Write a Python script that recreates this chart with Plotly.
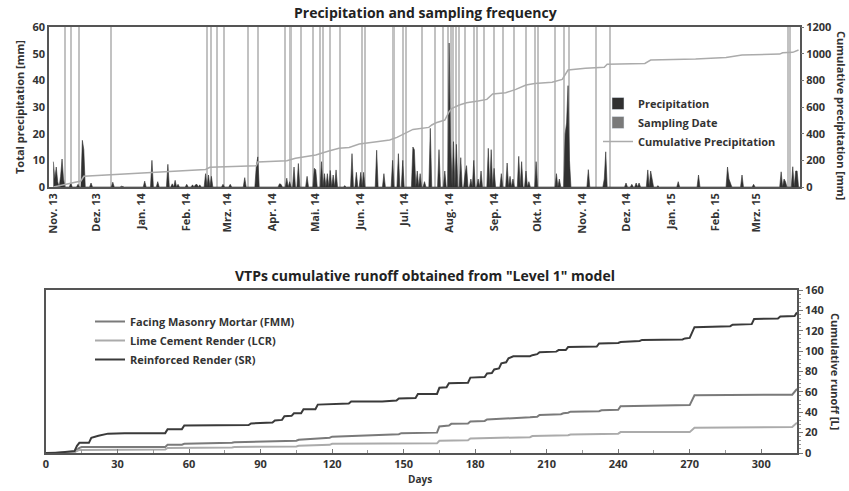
import pandas as pd
import plotly.graph_objects as go

# ---------------- data: top chart ----------------
rain_dates = ["2013-11-01","2013-11-02","2013-11-03","2013-11-04","2013-11-06","2013-11-07","2013-11-08",
              "2013-11-13","2013-11-18","2013-11-21","2013-11-22","2013-11-27","2013-12-12","2013-12-18",
              "2014-01-03","2014-01-08","2014-01-12","2014-01-19","2014-01-22","2014-01-24","2014-01-26",
              "2014-02-01","2014-02-05","2014-02-07","2014-02-08","2014-02-10","2014-02-14","2014-02-16",
              "2014-02-18","2014-02-26","2014-03-03","2014-03-13","2014-03-21","2014-03-22","2014-04-06",
              "2014-04-07","2014-04-11","2014-04-13","2014-04-16","2014-04-19","2014-04-25","2014-04-30",
              "2014-05-01","2014-05-05","2014-05-07","2014-05-09","2014-05-11","2014-05-13","2014-05-15",
              "2014-05-21","2014-05-26","2014-05-29","2014-06-01","2014-06-03","2014-06-12","2014-06-17",
              "2014-06-23","2014-06-27","2014-06-30","2014-07-07","2014-07-08","2014-07-10","2014-07-12",
              "2014-07-15","2014-07-19","2014-07-25","2014-07-29","2014-08-01","2014-08-02","2014-08-04",
              "2014-08-06","2014-08-09","2014-08-12","2014-08-13","2014-08-16","2014-08-18","2014-08-21",
              "2014-08-23","2014-08-28","2014-08-30","2014-09-01","2014-09-06","2014-09-10","2014-09-12",
              "2014-09-14","2014-09-18","2014-09-20","2014-09-23","2014-09-25","2014-09-30","2014-10-14",
              "2014-10-16","2014-10-20","2014-10-21","2014-10-22","2014-10-23","2014-11-05","2014-11-16",
              "2014-11-17","2014-12-01","2014-12-05","2014-12-08","2014-12-10","2014-12-16","2014-12-18",
              "2014-12-19","2014-12-23","2015-01-06","2015-01-20","2015-02-09","2015-02-10","2015-02-11",
              "2015-02-19","2015-02-27","2015-03-18","2015-03-20","2015-03-21","2015-03-26","2015-03-28",
              "2015-03-29"]
rain_mm = [9.5, 3, 7.5, 2, 4, 10.5, 3,
           1.5, 1, 17.5, 14, 1.5, 1.8, 0.3,
           2.2, 10, 2, 8.5, 1.2, 2.5, 1.0,
           1, 0.8, 0.8, 1, 0.8, 5, 4.5,
           4, 1, 1, 3.5, 8, 11.3, 1.2,
           1, 3.3, 2, 7.5, 8.8, 4, 7,
           6.5, 9.5, 5, 5, 6.2, 4.5, 6.4,
           0.5, 12.5, 5.5, 5.5, 5.5, 13.8, 5,
           10, 12.5, 10, 15, 14, 6, 5,
           2, 22, 14, 6, 54, 16, 17,
           16, 11, 5, 8, 3, 10, 3,
           6, 14.5, 14, 7, 5, 9, 4,
           3, 11.5, 9.5, 6, 2, 9.5, 5,
           3, 20, 24, 38, 10, 6.5, 3,
           13.2, 1.5, 1, 1.5, 1.5, 6.4, 6,
           3, 0.5, 2, 4.5, 7.5, 3, 1.5,
           4.5, 1, 5.7, 3, 2, 7.6, 6,
           6]

sampling_dates = ["2013-11-09","2013-11-13","2013-11-19","2013-12-11","2014-02-15","2014-02-18",
                  "2014-02-22","2014-02-27","2014-03-15","2014-03-22","2014-04-10","2014-04-13",
                  "2014-04-14","2014-04-21","2014-04-29","2014-05-04","2014-05-06","2014-05-11",
                  "2014-05-18","2014-06-02","2014-06-04","2014-06-23","2014-06-24","2014-06-30",
                  "2014-07-02","2014-07-13","2014-07-22","2014-07-28","2014-07-31","2014-08-02",
                  "2014-08-04","2014-08-06","2014-08-08","2014-08-12","2014-08-18","2014-08-20",
                  "2014-08-25","2014-09-01","2014-09-07","2014-09-15","2014-09-23","2014-09-29",
                  "2014-10-01","2014-10-13","2014-10-19","2014-10-23","2014-11-10","2014-11-20",
                  "2015-03-23","2015-03-24"]
sampling_height = 60

cum_dates = ["2013-11-01","2013-11-20","2013-11-22","2014-02-14","2014-02-17","2014-03-10","2014-03-21",
             "2014-03-22","2014-04-11","2014-04-17","2014-05-01","2014-05-10","2014-05-17","2014-05-24",
             "2014-05-31","2014-06-12","2014-06-21","2014-06-26","2014-07-01","2014-07-07","2014-07-18",
             "2014-07-20","2014-07-23","2014-07-29","2014-08-01","2014-08-03","2014-08-08","2014-08-13",
             "2014-08-21","2014-08-27","2014-08-31","2014-09-09","2014-09-16","2014-09-23","2014-09-29",
             "2014-10-11","2014-10-18","2014-10-22","2014-11-03","2014-11-16","2014-11-18","2014-12-14",
             "2014-12-18","2015-01-18","2015-02-08","2015-02-19","2015-03-17","2015-03-19","2015-03-26",
             "2015-03-30"]
cum_mm = [0, 45, 80, 132, 148, 157, 160,
          188, 197, 215, 240, 270, 290, 297,
          322, 340, 352, 372, 397, 432, 447,
          465, 482, 502, 565, 590, 615, 632,
          645, 657, 697, 707, 732, 765, 777,
          785, 807, 877, 890, 898, 920, 927,
          952, 960, 972, 990, 997, 1007, 1010,
          1027]

month_ticks = ["2013-11-01","2013-12-01","2014-01-01","2014-02-01","2014-03-01","2014-04-01",
               "2014-05-01","2014-06-01","2014-07-01","2014-08-01","2014-09-01","2014-10-01",
               "2014-11-01","2014-12-01","2015-01-01","2015-02-01","2015-03-01"]
month_labels = ["Nov. 13","Dez. 13","Jan. 14","Feb. 14","Mrz. 14","Apr. 14","Mai. 14","Jun. 14",
                "Jul. 14","Aug. 14","Sep. 14","Okt. 14","Nov. 14","Dez. 14","Jan. 15","Feb. 15","Mrz. 15"]

# ---------------- data: bottom chart ----------------
sr_days = [0,4,10,12,13,14,18,19,22,26,33,50,51,57,58,85,86,95,96,99,100,103,104,107,108,113,114,
           127,128,141,147,148,155,156,164,165,168,169,177,178,184,185,187,188,190,191,193,194,196,
           203,204,206,207,214,215,218,219,231,232,240,241,249,250,267,268,270,272,287,288,296,297,
           307,308,314,315]
sr_l = [0,0,1.5,2,7,10,10,15,17,19,19.5,19.5,23.4,23.4,27,27.5,29,30,32,32.5,36,36.5,39,39,43,43,47.5,
        48.5,50.5,50.5,51.5,53.5,54,58,58,64,64.5,68.5,69,74,74.5,78,78.5,82,83,88,89,93,95,
        95,96,97,99,99.5,101,101,104,104.5,107.5,108,109,110,111,111.5,112.5,113,123.5,124.5,126,126.5,131.5,
        132,134,134.5,138]

fmm_days = [0,10,12,14,15,50,51,57,58,78,79,105,106,119,120,148,149,164,165,169,170,177,178,184,185,
            203,206,207,216,217,219,220,232,233,240,241,267,270,272,313,315]
fmm_l = [0,0.5,1,5,5.8,6,8,8.2,9,10,10.5,12,13,15,16,18.5,19.5,20,26,27,28.6,29,31,31.5,33,
         35,35.5,37.4,38,39,39.5,40.6,41,42,42.5,46,46.5,47,56.6,57.3,63]

lcr_days = [0,10,12,14,50,51,78,79,105,106,119,120,164,165,177,178,203,204,219,220,240,241,270,272,313,315]
lcr_l = [0,0,1,3,3.5,5,5.5,5.8,6.5,7,8,9,9.5,12,12.5,14.3,15.5,16.6,17.5,18.2,19,20.5,20.5,24.8,25.5,29.7]

# ---------------- build figure ----------------
FONT = "Open Sans"
days = pd.date_range("2013-11-01", "2015-03-31", freq="D")
rain_series = pd.Series(0.0, index=days)
rain_series[pd.to_datetime(rain_dates)] = rain_mm

fig = go.Figure()

# drawn marks (legend entries handled by legend-only square traces below)
fig.add_trace(go.Scatter(
    x=rain_series.index, y=rain_series.values, name="Precipitation", mode="lines",
    line=dict(color="#303030", width=0.6), fill="tozeroy", fillcolor="#303030",
    xaxis="x", yaxis="y", showlegend=False))
fig.add_trace(go.Bar(
    x=sampling_dates, y=[sampling_height] * len(sampling_dates), name="Sampling Date",
    width=0.75 * 86400000, marker=dict(color="#c2c2c2", line=dict(width=0)),
    xaxis="x", yaxis="y", showlegend=False))

# legend squares
fig.add_trace(go.Bar(x=[None], y=[None], name="Precipitation", marker=dict(color="#303030"),
                     xaxis="x", yaxis="y", legend="legend"))
fig.add_trace(go.Bar(x=[None], y=[None], name="Sampling Date", marker=dict(color="#7a7a7a"),
                     xaxis="x", yaxis="y", legend="legend"))

fig.add_trace(go.Scatter(
    x=cum_dates, y=cum_mm, name="Cumulative Precipitation", mode="lines",
    line=dict(color="#ababab", width=1.5), xaxis="x", yaxis="y2", legend="legend"))

fig.add_trace(go.Scatter(
    x=fmm_days, y=fmm_l, name="Facing Masonry Mortar (FMM)", mode="lines",
    line=dict(color="#7a7a7a", width=2), xaxis="x2", yaxis="y3", legend="legend2"))
fig.add_trace(go.Scatter(
    x=lcr_days, y=lcr_l, name="Lime Cement Render (LCR)", mode="lines",
    line=dict(color="#ababab", width=2), xaxis="x2", yaxis="y3", legend="legend2"))
fig.add_trace(go.Scatter(
    x=sr_days, y=sr_l, name="Reinforced Render (SR)", mode="lines",
    line=dict(color="#3a3a3a", width=2), xaxis="x2", yaxis="y3", legend="legend2"))

ML, MR, MT, MB = 46, 49, 27, 38
W, H = 849, 491
PW, PH = W - ML - MR, H - MT - MB


def px_x(x):
    return (x - ML) / PW


def px_y(y):
    return (H - MB - y) / PH


tickfont = dict(family=FONT, size=11, color="#333", weight="bold")
frame = dict(showline=True, linecolor="#555", linewidth=1.5, mirror=True, showgrid=False, zeroline=False)

fig.update_layout(
    width=W, height=H, margin=dict(l=ML, r=MR, t=MT, b=MB, autoexpand=False),
    paper_bgcolor="white", plot_bgcolor="white",
    barmode="overlay", bargap=0,
    font=dict(family=FONT, color="#333"),
    xaxis=dict(domain=[px_x(49), px_x(800)], anchor="y", type="date",
               range=["2013-10-29", "2015-03-31"], tickvals=month_ticks, ticktext=month_labels,
               tickangle=-90, tickfont=tickfont, ticks="", automargin=False, **frame),
    yaxis=dict(domain=[px_y(187), px_y(27)], anchor="x", range=[0, 60], dtick=10,
               tickfont=tickfont, ticks="", automargin=False, **frame),
    yaxis2=dict(overlaying="y", side="right", anchor="x", range=[0, 1200], dtick=200,
                tickfont=tickfont, ticks="outside", ticklen=3, tickcolor="#777",
                showgrid=False, zeroline=False, automargin=False),
    xaxis2=dict(domain=[px_x(46), px_x(797)], anchor="y3", range=[0, 315], dtick=30,
                tickfont=tickfont, ticks="inside", ticklen=4, tickcolor="#777",
                minor=dict(dtick=15, ticks="inside", ticklen=3, tickcolor="#999"),
                automargin=False, **frame),
    yaxis3=dict(domain=[px_y(453), px_y(290)], anchor="x2", side="right", range=[0, 160], dtick=20,
                tickfont=tickfont, ticks="outside", ticklen=4, tickcolor="#777",
                minor=dict(dtick=4, ticks="outside", ticklen=2, tickcolor="#999"),
                automargin=False, **frame),
    legend=dict(x=px_x(598), y=px_y(89), xanchor="left", yanchor="top", bgcolor="rgba(0,0,0,0)",
                font=dict(family=FONT, size=11, color="#333", weight="bold"), itemwidth=30,
                tracegroupgap=0),
    legend2=dict(x=px_x(90), y=px_y(307), xanchor="left", yanchor="top", bgcolor="rgba(0,0,0,0)",
                 font=dict(family=FONT, size=11, color="#333", weight="bold"), itemwidth=30,
                 tracegroupgap=0),
    showlegend=True,
)

ann_font = dict(family=FONT, size=11, color="#333", weight="bold")
title_font = dict(family=FONT, size=14, color="#222", weight="bold")
annotations = [
    dict(text="Precipitation and sampling frequency", x=px_x(425), y=px_y(13), font=title_font),
    dict(text='VTPs cumulative runoff obtained from "Level 1" model', x=px_x(425), y=px_y(275),
         font=title_font),
    dict(text="Total precipitation [mm]", x=px_x(19), y=px_y(107), textangle=-90, font=ann_font),
    dict(text="Cumulative precipitation [mm]", x=px_x(842), y=px_y(115), textangle=90, font=ann_font),
    dict(text="Cumulative runoff [L]", x=px_x(836), y=px_y(371), textangle=90, font=ann_font),
    dict(text="Days", x=px_x(420), y=px_y(479), font=dict(family=FONT, size=10, color="#333", weight="bold")),
]
for a in annotations:
    a.update(xref="paper", yref="paper", showarrow=False, xanchor="center", yanchor="middle")
fig.update_layout(annotations=annotations)

fig.write_html("out.html")
